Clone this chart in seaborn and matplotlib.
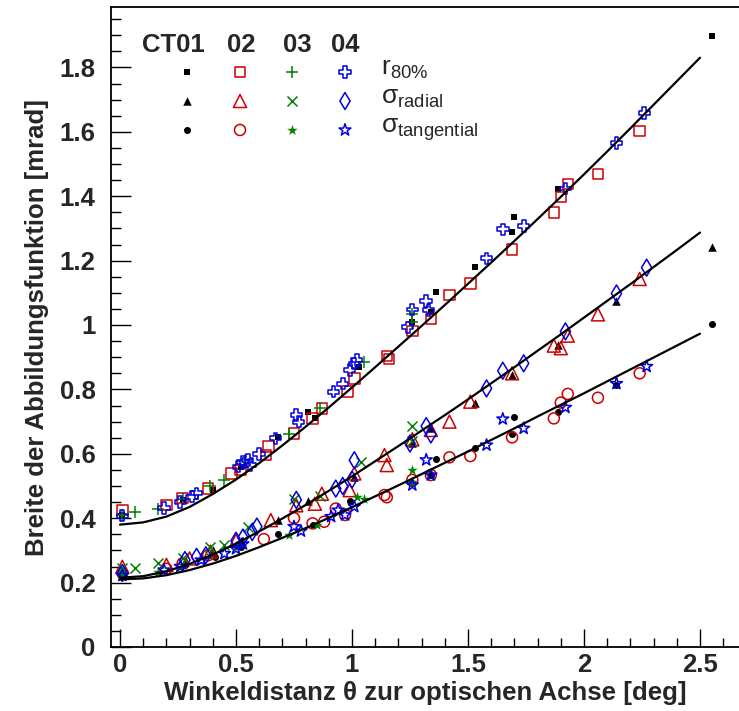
import numpy as np
import pandas as pd
import matplotlib
matplotlib.use("Agg")
import matplotlib.pyplot as plt
import seaborn as sns
from matplotlib.ticker import MultipleLocator, FuncFormatter

# ---------------- data ----------------
# CT01 (black, filled)
ct01_r80_x = [0.01, 0.27, 0.40, 0.52, 0.68, 0.81, 0.84, 1.03, 1.26, 1.34, 1.36, 1.53, 1.69, 1.70, 1.89, 2.55]
ct01_r80_y = [0.41, 0.455, 0.488, 0.56, 0.653, 0.731, 0.71, 0.870, 1.010, 1.04, 1.101, 1.179, 1.289, 1.336, 1.421, 1.897]
ct01_rad_x = [0.01, 0.28, 0.40, 0.52, 0.68, 0.81, 1.01, 1.26, 1.34, 1.53, 1.69, 1.89, 2.14, 2.55]
ct01_rad_y = [0.235, 0.265, 0.30, 0.33, 0.394, 0.452, 0.529, 0.632, 0.679, 0.757, 0.845, 0.938, 1.073, 1.241]
ct01_tan_x = [0.01, 0.28, 0.41, 0.52, 0.68, 0.83, 0.99, 1.26, 1.34, 1.36, 1.53, 1.69, 1.70, 1.89, 2.14, 2.55]
ct01_tan_y = [0.225, 0.255, 0.281, 0.31, 0.352, 0.379, 0.452, 0.51, 0.534, 0.585, 0.619, 0.663, 0.713, 0.731, 0.814, 1.003]

# CT02 (red, open)
ct02_r80_x = [0.01, 0.20, 0.27, 0.38, 0.48, 0.52, 0.63, 0.64, 0.75, 0.83, 0.87, 0.98, 1.01, 1.15, 1.16, 1.26, 1.34,
              1.42, 1.51, 1.69, 1.87, 1.90, 1.93, 2.06, 2.24]
ct02_r80_y = [0.425, 0.441, 0.462, 0.492, 0.539, 0.55, 0.596, 0.622, 0.663, 0.71, 0.741, 0.793, 0.834, 0.903, 0.895,
              0.982, 1.019, 1.093, 1.129, 1.234, 1.350, 1.398, 1.438, 1.469, 1.602]
ct02_rad_x = [0.01, 0.20, 0.30, 0.39, 0.50, 0.65, 0.76, 0.84, 0.87, 0.99, 1.01, 1.14, 1.15, 1.26, 1.34, 1.42, 1.51,
              1.69, 1.87, 1.90, 1.93, 2.06, 2.24]
ct02_rad_y = [0.249, 0.255, 0.275, 0.296, 0.33, 0.394, 0.44, 0.445, 0.476, 0.487, 0.539, 0.596, 0.565, 0.645, 0.674,
              0.700, 0.762, 0.850, 0.936, 0.928, 0.967, 1.033, 1.143]
ct02_tan_x = [0.01, 0.20, 0.27, 0.38, 0.62, 0.75, 0.83, 0.88, 0.93, 0.97, 1.14, 1.15, 1.26, 1.34, 1.42, 1.51, 1.69,
              1.87, 1.90, 1.93, 2.06, 2.24]
ct02_tan_y = [0.23, 0.243, 0.26, 0.285, 0.335, 0.40, 0.384, 0.389, 0.43, 0.41, 0.472, 0.465, 0.519, 0.534, 0.589,
              0.593, 0.651, 0.710, 0.759, 0.786, 0.774, 0.850]

# CT03 (green)
ct03_r80_x = [0.01, 0.065, 0.165, 0.27, 0.39, 0.45, 0.54, 0.73, 0.86, 1.05, 1.26, 1.26]
ct03_r80_y = [0.41, 0.42, 0.428, 0.46, 0.50, 0.519, 0.58, 0.663, 0.741, 0.886, 1.034, 1.01]
ct03_rad_x = [0.01, 0.065, 0.165, 0.27, 0.39, 0.45, 0.55, 0.75, 0.86, 1.04, 1.26, 1.26]
ct03_rad_y = [0.245, 0.244, 0.26, 0.275, 0.31, 0.317, 0.374, 0.46, 0.47, 0.575, 0.686, 0.64]
ct03_tan_x = [0.01, 0.165, 0.27, 0.39, 0.50, 0.73, 0.85, 1.02, 1.05, 1.26, 1.26]
ct03_tan_y = [0.228, 0.233, 0.255, 0.285, 0.31, 0.348, 0.379, 0.467, 0.46, 0.55, 0.513]

# CT04 (blue, open)
ct04_r80_x = [0.01, 0.19, 0.26, 0.31, 0.33, 0.51, 0.53, 0.55, 0.56, 0.60, 0.67, 0.76, 0.77, 0.92, 0.96, 0.99, 1.01,
              1.02, 1.24, 1.26, 1.32, 1.33, 1.58, 1.65, 1.74, 1.92, 2.14, 2.26]
ct04_r80_y = [0.408, 0.431, 0.45, 0.467, 0.477, 0.56, 0.575, 0.58, 0.565, 0.60, 0.648, 0.72, 0.70, 0.793, 0.818, 0.86,
              0.88, 0.891, 0.993, 1.048, 1.075, 1.047, 1.207, 1.297, 1.307, 1.424, 1.565, 1.658]
ct04_rad_x = [0.01, 0.28, 0.33, 0.37, 0.50, 0.53, 0.57, 0.59, 0.76, 0.93, 0.96, 1.00, 1.01, 1.25, 1.32, 1.34, 1.58,
              1.65, 1.74, 1.92, 2.14, 2.27]
ct04_rad_y = [0.23, 0.27, 0.28, 0.285, 0.33, 0.34, 0.357, 0.374, 0.457, 0.492, 0.50, 0.52, 0.58, 0.632, 0.686, 0.66,
              0.803, 0.858, 0.881, 0.980, 1.098, 1.178]
ct04_tan_x = [0.01, 0.19, 0.26, 0.35, 0.45, 0.50, 0.53, 0.75, 0.78, 0.91, 0.94, 0.97, 1.01, 1.26, 1.32, 1.34, 1.58,
              1.65, 1.74, 1.92, 2.14, 2.27]
ct04_tan_y = [0.222, 0.239, 0.25, 0.27, 0.29, 0.305, 0.32, 0.374, 0.36, 0.405, 0.425, 0.41, 0.436, 0.503, 0.581, 0.534,
              0.627, 0.708, 0.679, 0.744, 0.818, 0.871]

# fitted curves
fit_theta = [0.0, 0.1, 0.2, 0.3, 0.4, 0.5, 0.6, 0.7, 0.8, 0.9, 1.0, 1.1, 1.2, 1.3, 1.4, 1.5, 1.6, 1.7, 1.8,
             1.9, 2.0, 2.1, 2.2, 2.3, 2.4, 2.5]
fit_r80 = [0.380, 0.387, 0.405, 0.435, 0.475, 0.520, 0.571, 0.626, 0.684, 0.744, 0.806, 0.869, 0.933, 0.997,
           1.062, 1.128, 1.194, 1.261, 1.329, 1.398, 1.468, 1.539, 1.611, 1.684, 1.757, 1.830]
fit_rad = [0.215, 0.220, 0.235, 0.258, 0.287, 0.321, 0.359, 0.399, 0.441, 0.485, 0.530, 0.577, 0.624, 0.672,
           0.720, 0.769, 0.819, 0.869, 0.920, 0.971, 1.023, 1.075, 1.127, 1.180, 1.233, 1.287]
fit_tan = [0.210, 0.213, 0.223, 0.239, 0.259, 0.283, 0.310, 0.339, 0.369, 0.401, 0.434, 0.468, 0.502, 0.537,
           0.572, 0.607, 0.643, 0.679, 0.716, 0.752, 0.788, 0.825, 0.862, 0.899, 0.936, 0.973]

telescopes = ["CT01", "02", "03", "04"]
quantity_labels = [r"$\mathregular{r_{80\%}}$", r"$\mathregular{σ_{radial}}$", r"$\mathregular{σ_{tangential}}$"]

# ---------------- style ----------------
sns.set_theme(style="ticks")
plt.rcParams["font.family"] = ["Liberation Sans", "DejaVu Sans"]
plt.rcParams["mathtext.fontset"] = "custom"
plt.rcParams["mathtext.rm"] = "Liberation Sans"
plt.rcParams["mathtext.it"] = "Liberation Sans:italic"
plt.rcParams["mathtext.bf"] = "Liberation Sans:bold"

BLACK = "#000000"
RED = "#cc0000"
GREEN = "#008000"
BLUE = "#0000dd"

# (marker, color, size_px, filled)
styles = {
    ("CT01", "r80"): ("s", BLACK, 6.5, True),
    ("CT01", "rad"): ("^", BLACK, 8.5, True),
    ("CT01", "tan"): ("o", BLACK, 7.0, True),
    ("02", "r80"): ("s", RED, 10.5, False),
    ("02", "rad"): ("^", RED, 13, False),
    ("02", "tan"): ("o", RED, 11, False),
    ("03", "r80"): ("+", GREEN, 12, None),
    ("03", "rad"): ("x", GREEN, 10, None),
    ("03", "tan"): ("*", GREEN, 11, True),
    ("04", "r80"): ("P", BLUE, 11.5, False),
    ("04", "rad"): ("d", BLUE, 12, False),
    ("04", "tan"): ("*", BLUE, 12.5, False),
}

series = {
    ("CT01", "r80"): (ct01_r80_x, ct01_r80_y), ("CT01", "rad"): (ct01_rad_x, ct01_rad_y),
    ("CT01", "tan"): (ct01_tan_x, ct01_tan_y),
    ("02", "r80"): (ct02_r80_x, ct02_r80_y), ("02", "rad"): (ct02_rad_x, ct02_rad_y),
    ("02", "tan"): (ct02_tan_x, ct02_tan_y),
    ("03", "r80"): (ct03_r80_x, ct03_r80_y), ("03", "rad"): (ct03_rad_x, ct03_rad_y),
    ("03", "tan"): (ct03_tan_x, ct03_tan_y),
    ("04", "r80"): (ct04_r80_x, ct04_r80_y), ("04", "rad"): (ct04_rad_x, ct04_rad_y),
    ("04", "tan"): (ct04_tan_x, ct04_tan_y),
}

W, H = 739, 711
fig = plt.figure(figsize=(W / 100, H / 100), dpi=100)
ax_l, ax_r, ax_t, ax_b = 111, 739, 7, 647
ax = fig.add_axes([ax_l / W, 1 - ax_b / H, (ax_r - ax_l) / W, (ax_b - ax_t) / H])

PX = 0.72  # points per pixel


def marker_kw(marker, color, size, filled):
    s = (size * PX) ** 2
    if filled is None:
        return dict(marker=marker, color=color, s=s, linewidth=1.1)
    if filled:
        return dict(marker=marker, color=color, s=s, linewidth=0)
    return dict(marker=marker, facecolor="none", edgecolor=color, s=s, linewidth=1.1)


for tel in telescopes:
    for q in ["r80", "rad", "tan"]:
        x, y = series[(tel, q)]
        df = pd.DataFrame({"theta": x, "width": y})
        kw = marker_kw(*styles[(tel, q)])
        sns.scatterplot(data=df, x="theta", y="width", ax=ax, legend=False, zorder=3, **kw)

for fy in [fit_r80, fit_rad, fit_tan]:
    dfl = pd.DataFrame({"theta": fit_theta, "width": fy})
    sns.lineplot(data=dfl, x="theta", y="width", ax=ax, color="black", linewidth=1.6, zorder=4,
                 legend=False, estimator=None, sort=False)

# axes formatting
ax.set_xlim((ax_l - 120) / 232, (ax_r - 120) / 232)
ax.set_ylim(0, (ax_b - ax_t) / 322)
ax.xaxis.set_major_locator(MultipleLocator(0.5))
ax.xaxis.set_minor_locator(MultipleLocator(0.1))
ax.yaxis.set_major_locator(MultipleLocator(0.2))
ax.yaxis.set_minor_locator(MultipleLocator(0.05))
fmt = FuncFormatter(lambda v, p: f"{v:g}")
ax.xaxis.set_major_formatter(fmt)
ax.yaxis.set_major_formatter(fmt)
ax.tick_params(axis="both", which="both", direction="in", top=False, right=False, width=1.0, color="black")
ax.tick_params(axis="x", which="major", length=13, pad=4, labelsize=18.5)
ax.tick_params(axis="x", which="minor", length=6.5)
ax.tick_params(axis="y", which="major", length=14.5, pad=11, labelsize=18.5)
ax.tick_params(axis="y", which="minor", length=7.2)
for lab in ax.get_xticklabels() + ax.get_yticklabels():
    lab.set_fontweight("bold")
ax.spines["right"].set_visible(False)
for sp in ["left", "bottom", "top"]:
    ax.spines[sp].set_linewidth(1.3)
    ax.spines[sp].set_color("black")

ax.set_xlabel("Winkeldistanz θ zur optischen Achse [deg]", fontsize=18.6, fontweight="bold", labelpad=3)
ax.set_ylabel("Breite der Abbildungsfunktion [mrad]", fontsize=18.5, fontweight="bold", labelpad=8)

# ---------------- legend (manual, ROOT style) ----------------
def fx(px):
    return (px - ax_l) / (ax_r - ax_l)


def fyy(py):
    return (ax_b - py) / (ax_b - ax_t)


head_x = [173, 241, 297, 345]
for tel, hx in zip(telescopes, head_x):
    ax.text(fx(hx), fyy(45), tel, transform=ax.transAxes, ha="center", va="center",
            fontsize=18.5, fontweight="bold")

col_x = [187, 240, 292, 345]
row_y = [72, 101, 130]
for tel, cx in zip(telescopes, col_x):
    for q, ry in zip(["r80", "rad", "tan"], row_y):
        kw = marker_kw(*styles[(tel, q)])
        ax.scatter([fx(cx)], [fyy(ry)], transform=ax.transAxes, clip_on=False, zorder=5, **kw)

lab_y = [75, 104, 133]
for lab, ly in zip(quantity_labels, lab_y):
    ax.text(fx(381), fyy(ly), lab, transform=ax.transAxes, ha="left", va="baseline", fontsize=19)

fig.savefig("out.png", dpi=100)
